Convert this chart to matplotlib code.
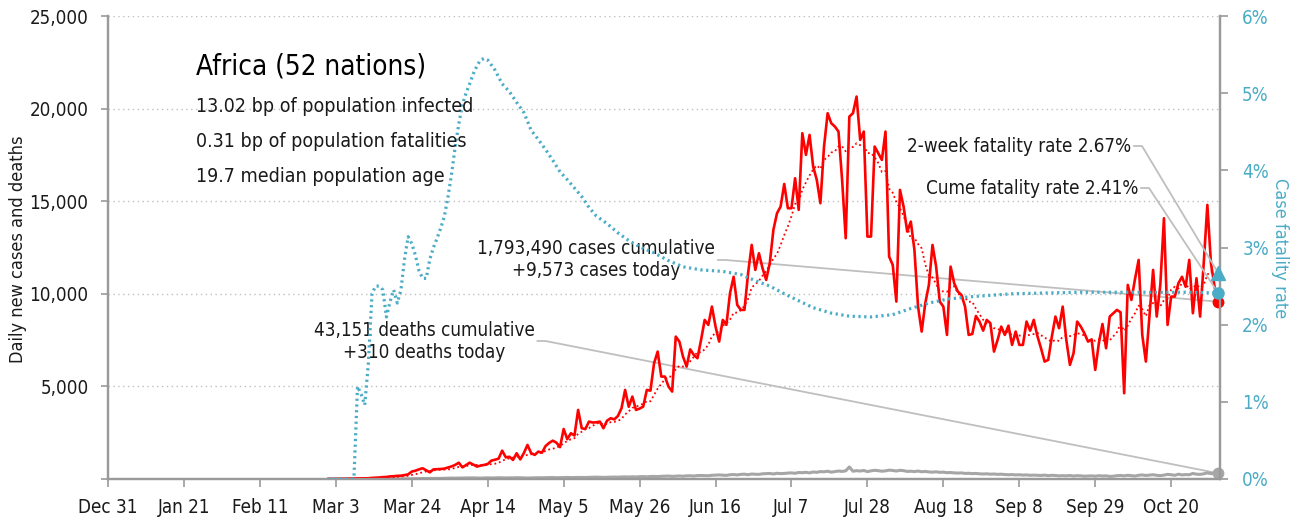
import math
import pandas as pd
import matplotlib
matplotlib.use("Agg")
import matplotlib.pyplot as plt
import matplotlib.dates as mdates
from matplotlib import font_manager
from matplotlib.text import Text
from matplotlib.ticker import FuncFormatter, MultipleLocator

# === FONTS ===
installed = {f.name for f in font_manager.fontManager.ttflist}
if "Liberation Sans Narrow" in installed:
    plt.rcParams["font.family"] = ["Liberation Sans Narrow", "DejaVu Sans"]
else:
    plt.rcParams["font.family"] = ["DejaVu Sans"]
    plt.rcParams["font.stretch"] = "condensed"

# === DATA ===
axis_start = "2019-12-31"
series_start = "2020-03-01"

# daily new cases, Mar 1 -> Nov 2
new_cases = [
    5, 3, 8, 10, 12, 15, 20, 20, 30, 35, 45, 40, 60, 70, 80, 100, 110, 140, 150, 170, 180, 210,
    250, 400, 450, 520, 580, 470, 360, 520, 530, 540, 560, 620, 680, 760, 880, 630, 750, 880,
    780, 670, 720, 760, 810, 990, 1040, 1100, 1530, 1170, 1200, 1030, 1390, 1060, 1400, 1840,
    1400, 1300, 1480, 1420, 1780, 1950, 2070, 1960, 1720, 2700, 2150,
    2470, 2350, 3730, 2740, 2700, 3100, 3050, 3060, 3100, 2740, 3150, 3280, 3220, 3400, 3820,
    4810, 3900, 4450, 3730, 3800, 3910, 4810, 4770, 6250, 6880, 5530, 5530, 4990, 4720, 7690,
    7420, 6610, 6070, 7000, 6700, 6520,
    7510, 8590, 8320, 9310, 8230, 7420, 8590, 8320, 10030, 10920, 9400, 9130, 9130, 11110,
    12640, 11290, 12190, 11380, 10750, 11650, 13450, 14350, 14710, 15930, 14620, 14620, 16240,
    14530, 18670, 17500, 18580, 16870, 16150, 14890, 17950, 19750, 19210, 19030, 18760, 16150,
    13000, 19570, 19750, 20650, 18310, 18760, 13090, 13090, 17950, 17590, 17230, 18760, 12010,
    11560, 9580, 15610, 14710, 13360, 13900, 12370, 9310, 7960, 9490, 10480, 12640, 11470,
    9580, 9310, 7780, 11470,
    10570, 10120, 9940, 9310, 7780, 7830, 8800, 8500, 8010, 8590, 8410, 6880, 7510, 8230, 7780,
    8280, 7240, 7960, 7240, 7240, 8500, 8010, 8590, 7720, 7060, 6340, 6430, 7690, 8770, 8140,
    9310, 7510, 6160, 6790, 8500, 8230, 7870, 7420, 7540, 5890, 7330,
    8370, 7060, 8770, 8950, 9130, 9000, 4630, 10480, 9670, 10800, 11830, 7780, 6340, 8800,
    11290, 8770, 10500, 14080, 8320, 9850, 9850, 10570, 10920, 10380, 11830, 8950, 10840, 8770,
    11650, 14800, 11650, 10380, 9573,
]

# daily new deaths, Mar 1 -> Nov 2
new_deaths = [
    0, 0, 0, 0, 0, 0, 0, 1, 0, 1, 0, 2, 1, 3, 2, 3, 4, 5, 6, 8, 10,
    12, 10, 14, 18, 20, 25, 22, 28, 30, 35, 32, 40, 45, 50, 48, 52, 55, 60, 58, 62, 55,
    50, 60, 65, 55, 60, 70, 62, 58, 65, 62, 70, 68, 60, 55, 60, 65, 70, 68, 72, 75, 80,
    70, 75, 80, 85, 78, 82, 90, 85, 80, 90, 95, 100, 92, 88, 95, 100, 105, 98, 110, 115, 108,
    120, 110, 125, 130, 118, 135, 140, 130, 145, 150, 160, 140, 155, 165,
    150, 170, 175, 160, 185, 190, 180, 175, 200, 210, 220, 205, 195, 230,
    240, 220, 250, 260, 230, 270, 255, 250, 280, 290, 300, 270, 310, 290,
    300, 320, 330, 310, 350, 340, 360, 330, 380, 360, 400, 390, 420, 370,
    400, 430, 410, 440, 650, 420, 450, 430, 460, 400, 440, 470, 450, 420,
    440, 480, 460, 430, 470, 450, 410, 420, 400, 430, 390, 410, 380, 370,
    390, 360, 370, 340, 350, 330, 320, 330, 300, 310, 290, 300, 280, 270,
    280, 260, 270, 250, 260, 240, 230, 240, 220, 230, 210, 220, 200, 210,
    200, 190, 210, 180, 200, 190, 170, 180, 170, 190, 160, 180, 170, 150,
    160, 170, 150, 180, 160, 170, 140, 150, 180, 190, 170, 200, 180, 160,
    200, 220, 190, 210, 230, 200, 180, 210, 250, 230, 200, 260, 220, 240,
    230, 300, 260, 250, 280, 330, 290, 300, 310,
]

# cumulative case fatality rate (%)
cfr_dates = [
    "03-01", "03-08", "03-09", "03-10", "03-11", "03-12", "03-13", "03-14", "03-15", "03-16",
    "03-17", "03-18", "03-19", "03-20", "03-21", "03-22", "03-23", "03-24", "03-25", "03-26",
    "03-27", "03-28", "03-29", "03-30", "03-31", "04-01", "04-02", "04-03", "04-04", "04-05",
    "04-06", "04-07", "04-08", "04-09", "04-10", "04-11", "04-12", "04-13", "04-14", "04-16",
    "04-18", "04-20", "04-22", "04-24", "04-26", "04-28", "04-30", "05-02", "05-04", "05-06",
    "05-08", "05-10", "05-12", "05-14", "05-17", "05-20", "05-23", "05-26", "05-30", "06-03",
    "06-07", "06-12", "06-18", "06-23", "06-27", "07-01", "07-05", "07-09", "07-13", "07-18",
    "07-23", "07-29", "08-04", "08-09", "08-14", "08-19", "08-25", "08-31", "09-06", "09-15",
    "09-25", "10-05", "10-15", "10-25", "11-02",
]
cfr_pct = [
    0.0, 0.0, 1.2, 1.1, 0.96, 1.5, 2.4, 2.5, 2.5, 2.45,
    2.1, 2.3, 2.45, 2.28, 2.45, 2.85, 3.14, 3.05, 2.9, 2.7,
    2.6, 2.6, 2.85, 3.0, 3.12, 3.25, 3.4, 3.65, 3.95, 4.3,
    4.6, 4.85, 5.0, 5.12, 5.25, 5.35, 5.43, 5.45, 5.43, 5.3,
    5.12, 5.02, 4.88, 4.75, 4.52, 4.4, 4.27, 4.13, 3.98, 3.88,
    3.77, 3.66, 3.52, 3.41, 3.31, 3.19, 3.09, 3.01, 2.93, 2.83,
    2.75, 2.71, 2.69, 2.65, 2.57, 2.5, 2.4, 2.31, 2.22, 2.15,
    2.11, 2.1, 2.13, 2.21, 2.28, 2.33, 2.36, 2.38, 2.4, 2.41,
    2.42, 2.42, 2.42, 2.42, 2.41,
]

two_week_cfr = 2.67
total_cases = 1793490
total_deaths = 43151
title = "Africa (52 nations)"
facts = [
    "13.02 bp of population infected",
    "0.31 bp of population fatalities",
    "19.7 median population age",
]

# === STYLE ===
RED = "#ff0000"
BLUE = "#4bacc6"
GREY = "#a6a6a6"
LEADER = "#bfbfbf"
SPINE = "#9a9a9a"
TXT = "#1a1a1a"
W, H = 1299, 520

dates = pd.date_range(series_start, periods=len(new_cases), freq="D")
cfr_x = pd.to_datetime(["2020-" + d for d in cfr_dates])
avg7 = pd.Series(new_cases, index=dates).rolling(7).mean()
last = dates[-1]

fig = plt.figure(figsize=(W / 100, H / 100), dpi=100)
ax = fig.add_axes([108 / W, 41 / H, 1112 / W, 463 / H])
ax2 = ax.twinx()

ax.plot(dates, new_deaths, color=GREY, lw=2.2, zorder=3)
ax.plot(dates, avg7, color=RED, lw=1.3, ls=(0, (1, 1.6)), zorder=4)
ax.plot(dates, new_cases, color=RED, lw=1.9, zorder=5)
ax.plot([last], [new_cases[-1]], "o", color=RED, ms=7.5, clip_on=False, zorder=6)
ax.plot([last], [new_deaths[-1]], "o", color=GREY, ms=7.5, clip_on=False, zorder=6)

ax2.plot(cfr_x, cfr_pct, color=BLUE, lw=2.3, ls=(0, (0.7, 1.1)), zorder=3)
ax2.plot([last], [cfr_pct[-1]], "o", color=BLUE, ms=8, clip_on=False, zorder=6)
ax2.plot([last], [two_week_cfr], "^", color=BLUE, ms=9.5, clip_on=False, zorder=6)

# === AXES ===
ax.set_xlim(pd.Timestamp(axis_start), last + pd.Timedelta(hours=12))
ax.set_ylim(0, 25000)
ax2.set_ylim(0, 6)

ticks = pd.date_range(axis_start, last, freq="21D")
ax.set_xticks(ticks)
ax.set_xticklabels([f"{d:%b} {d.day}" for d in ticks])
ax.yaxis.set_major_locator(MultipleLocator(5000))
ax.yaxis.set_major_formatter(FuncFormatter(lambda v, p: "" if v == 0 else f"{v:,.0f}"))
ax2.yaxis.set_major_locator(MultipleLocator(1))
ax2.yaxis.set_major_formatter(FuncFormatter(lambda v, p: f"{v:.0f}%"))

ax.grid(axis="y", color=LEADER, ls=(0, (1, 2.5)), lw=1)
ax.set_axisbelow(True)

for a in (ax, ax2):
    a.spines["top"].set_visible(False)
    for s in ("left", "right", "bottom"):
        a.spines[s].set_color(SPINE)
        a.spines[s].set_linewidth(1.6)

ax.tick_params(axis="x", length=6, width=1.2, color=SPINE, pad=8, labelsize=13.5, labelcolor=TXT)
ax.tick_params(axis="y", length=5, width=1.2, color=SPINE, pad=9, labelsize=13.5, labelcolor=TXT)
ax2.tick_params(axis="y", length=6, width=1.2, color=SPINE, pad=10, labelsize=13.5, labelcolor=BLUE)

ax.set_ylabel("Daily new cases and deaths", fontsize=13, color=TXT)
ax.yaxis.label.set_va("center")
ax.yaxis.set_label_coords(18.5 / W, 1 - 249 / H, transform=fig.transFigure)
ax2.set_ylabel("Case fatality rate", fontsize=13, color=BLUE, rotation=270)
ax2.yaxis.label.set_va("center")
ax2.yaxis.set_label_coords(1280 / W, 1 - 248 / H, transform=fig.transFigure)

# === TEXT ===
fig.text(196 / W, 1 - 75 / H, title, fontsize=20, color="black", va="baseline")
for i, line in enumerate(facts):
    fig.text(196 / W, 1 - (112 + 35 * i) / H, line, fontsize=14, color=TXT, va="baseline")

arrow = dict(arrowstyle="-", color=LEADER, lw=1.3, shrinkA=0, shrinkB=0, relpos=(1, 0.5))
notes = [
    (ax, new_cases[-1], f"{total_cases:,} cases cumulative\n+{new_cases[-1]:,} cases today", (596, 260), "center"),
    (ax, new_deaths[-1], f"{total_deaths:,} deaths cumulative\n+{new_deaths[-1]:,} deaths today", (424, 341), "center"),
    (ax2, two_week_cfr, f"2-week fatality rate {two_week_cfr:.2f}%", (1131, 146), "right"),
    (ax2, cfr_pct[-1], f"Cume fatality rate {cfr_pct[-1]:.2f}%", (1138, 188), "right"),
]
anns = []
for a, val, label, (px, py), ha in notes:
    ann = a.annotate(label, xy=(last, val), xycoords="data",
                     xytext=(px / W, 1 - py / H), textcoords="figure fraction",
                     ha=ha, va="center", multialignment="center", fontsize=13.5,
                     color=TXT, arrowprops=dict(arrow), annotation_clip=False, zorder=2)
    anns.append((a, ann, val))

# leader lines: short horizontal step out of the text, then straight to the point
fig.canvas.draw()
renderer = fig.canvas.get_renderer()
for a, ann, val in anns:
    bb = Text.get_window_extent(ann, renderer)
    xa, ya = bb.x1 + 11, (bb.y0 + bb.y1) / 2
    xb, yb = a.transData.transform((mdates.date2num(last), val))
    ang = math.degrees(math.atan2(yb - ya, xb - xa))
    ann.arrow_patch.set_connectionstyle(f"angle,angleA=0,angleB={ang:.3f},rad=0")

fig.savefig("out.png", dpi=100)
